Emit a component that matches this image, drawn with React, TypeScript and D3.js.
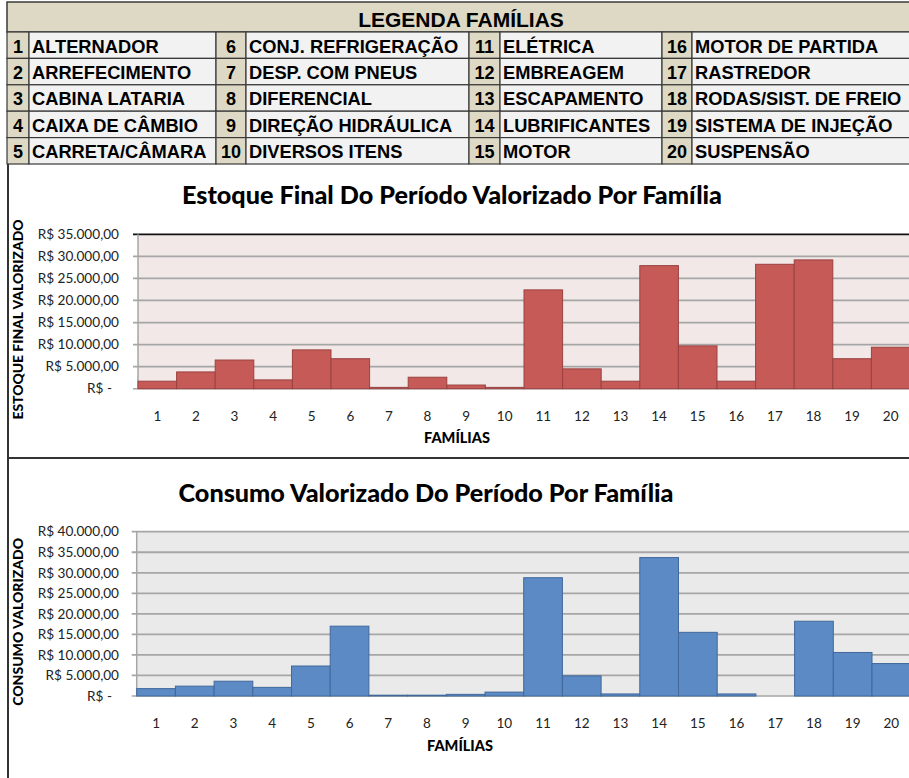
import React from "react";
import * as d3 from "d3";

const W = 909;
const H = 778;

// legend: family names, numbered 1..20
const familyNames = [
  "ALTERNADOR", "ARREFECIMENTO", "CABINA LATARIA", "CAIXA DE CÂMBIO", "CARRETA/CÂMARA",
  "CONJ. REFRIGERAÇÃO", "DESP. COM PNEUS", "DIFERENCIAL", "DIREÇÃO HIDRÁULICA", "DIVERSOS ITENS",
  "ELÉTRICA", "EMBREAGEM", "ESCAPAMENTO", "LUBRIFICANTES", "MOTOR",
  "MOTOR DE PARTIDA", "RASTREDOR", "RODAS/SIST. DE FREIO", "SISTEMA DE INJEÇÃO", "SUSPENSÃO",
];
const families = familyNames.map((_, i) => String(i + 1));

// estoque final (R$)
const estoqueValues = [
  1700, 3800, 6500, 2000, 8800, 6800, 300, 2600, 830, 300,
  22400, 4500, 1700, 27900, 9700, 1700, 28200, 29200, 6800, 9400,
];
// consumo (R$)
const consumoValues = [
  1800, 2400, 3600, 2100, 7300, 17000, 200, 200, 400, 950,
  28800, 4900, 500, 33700, 15500, 500, 0, 18200, 10600, 7900,
];

const estoqueTicks = [0, 5000, 10000, 15000, 20000, 25000, 30000, 35000];
const consumoTicks = [0, 5000, 10000, 15000, 20000, 25000, 30000, 35000, 40000];

const fmtNum = d3.formatLocale({ decimal: ",", thousands: ".", grouping: [3], currency: ["R$ ", ""] }).format(",.2f");
const fmtMoney = (v: number) => (v === 0 ? "R$ -" : "R$ " + fmtNum(v));

const LEGEND_FONT = "'Liberation Sans', Arial, sans-serif";
const CHART_FONT = "Lato, 'Open Sans', sans-serif";

// column bounds: [left, split, right]
const legendCols = [
  [7, 29, 216],
  [216, 246, 469],
  [469, 500, 662],
  [662, 692, 912],
];
const legendTop = 2;
const headerH = 30;
const rowH = 26.4;

function Legend() {
  const rowsTop = legendTop + headerH;
  return (
    <g fontFamily={LEGEND_FONT} fontWeight="bold">
      <rect x={7} y={legendTop} width={W} height={headerH} fill="#DDD9C4" stroke="#3a3a3a" strokeWidth={1.5} />
      <text x={461} y={legendTop + 25} textAnchor="middle" fontSize={21} fill="#000">
        LEGENDA FAMÍLIAS
      </text>
      {familyNames.map((name, i) => {
        const col = Math.floor(i / 5);
        const row = i % 5;
        const [l, s, r] = legendCols[col];
        const y = rowsTop + row * rowH;
        return (
          <g key={name}>
            <rect x={l} y={y} width={s - l} height={rowH} fill="#DDD9C4" stroke="#3a3a3a" strokeWidth={1.2} />
            <rect x={s} y={y} width={r - s} height={rowH} fill="#F2F2F2" stroke="#3a3a3a" strokeWidth={1.2} />
            <text x={(l + s) / 2} y={y + 20.5} textAnchor="middle" fontSize={18} fill="#000">
              {families[i]}
            </text>
            <text x={s + 3} y={y + 20.5} fontSize={18.3} fill="#000">
              {name}
            </text>
          </g>
        );
      })}
    </g>
  );
}

type ChartProps = {
  values: number[];
  ticks: number[];
  left: number;
  right: number;
  top: number;
  zero: number;
  bg: string;
  fill: string;
  stroke: string;
  topLine: string;
  title: string;
  titleX: number;
  titleY: number;
  titleLen: number;
  yTitle: string;
  yTitleLen: number;
  xTitleX: number;
  xTitleY: number;
};

function BarChart(p: ChartProps) {
  const x = d3.scaleBand().domain(families).range([p.left, p.right]).padding(0);
  const y = d3
    .scaleLinear()
    .domain([0, p.ticks[p.ticks.length - 1]])
    .range([p.zero, p.top]);
  const midY = (p.top + p.zero) / 2;

  return (
    <g fontFamily={CHART_FONT}>
      <text x={p.titleX} y={p.titleY} textAnchor="middle" fontSize={25} fontWeight="900" fill="#000"
        textLength={p.titleLen} lengthAdjust="spacingAndGlyphs">
        {p.title}
      </text>

      <rect x={p.left} y={p.top} width={p.right - p.left} height={p.zero - p.top} fill={p.bg} />

      {p.ticks.map((t) => (
        <g key={t}>
          <line x1={p.left - 5} x2={p.right} y1={y(t)} y2={y(t)}
            stroke={t === p.ticks[p.ticks.length - 1] ? p.topLine : "#a6a6a6"} strokeWidth={t === 0 ? 1.5 : 1.8} />
          <text x={t === 0 ? 112 : 119} y={y(t)} dy="0.35em" textAnchor="end" fontSize={13.6} fill="#222">
            {fmtMoney(t)}
          </text>
        </g>
      ))}
      <line x1={p.left} x2={p.left} y1={p.top} y2={p.zero} stroke="#a6a6a6" strokeWidth={1.5} />

      {p.values.map((v, i) => (
        <rect key={i} x={x(families[i])} y={y(v)} width={x.bandwidth()} height={p.zero - y(v)}
          fill={p.fill} stroke={p.stroke} strokeWidth={1} />
      ))}

      {families.map((f) => (
        <text key={f} x={(x(f) as number) + x.bandwidth() / 2} y={p.zero + 32} textAnchor="middle" fontSize={13.5} fill="#222">
          {f}
        </text>
      ))}

      <text x={p.xTitleX} y={p.xTitleY} textAnchor="middle" fontSize={14.5} fontWeight="900" fill="#000">
        FAMÍLIAS
      </text>
      <text transform={`translate(23,${midY + 8}) rotate(-90)`} textAnchor="middle" fontSize={13} fontWeight="900" fill="#000"
        textLength={p.yTitleLen} lengthAdjust="spacingAndGlyphs">
        {p.yTitle}
      </text>
    </g>
  );
}

export default function App() {
  return (
    <svg width={W} height={H} style={{ position: "absolute", left: 0, top: 0, background: "#fff" }}>
      <Legend />
      <line x1={8} x2={8} y1={164} y2={H} stroke="#333" strokeWidth={2} />
      <line x1={8} x2={W} y1={458} y2={458} stroke="#333" strokeWidth={2} />

      <BarChart
        values={estoqueValues}
        ticks={estoqueTicks}
        left={138}
        right={910}
        top={234.3}
        zero={388.7}
        bg="#F2E8E8"
        fill="#C55A57"
        stroke="#9B4240"
        topLine="#111"
        title="Estoque Final Do Período Valorizado Por Família"
        titleX={452}
        titleY={204}
        titleLen={540}
        yTitle="ESTOQUE FINAL VALORIZADO"
        yTitleLen={200}
        xTitleX={457}
        xTitleY={443}
      />
      <BarChart
        values={consumoValues}
        ticks={consumoTicks}
        left={136.7}
        right={910.7}
        top={531.7}
        zero={696}
        bg="#EAEAEA"
        fill="#5B8AC4"
        stroke="#41689C"
        topLine="#a6a6a6"
        title="Consumo Valorizado Do Período Por Família"
        titleX={426}
        titleY={502}
        titleLen={495}
        yTitle="CONSUMO VALORIZADO"
        yTitleLen={168}
        xTitleX={460}
        xTitleY={751}
      />
    </svg>
  );
}
